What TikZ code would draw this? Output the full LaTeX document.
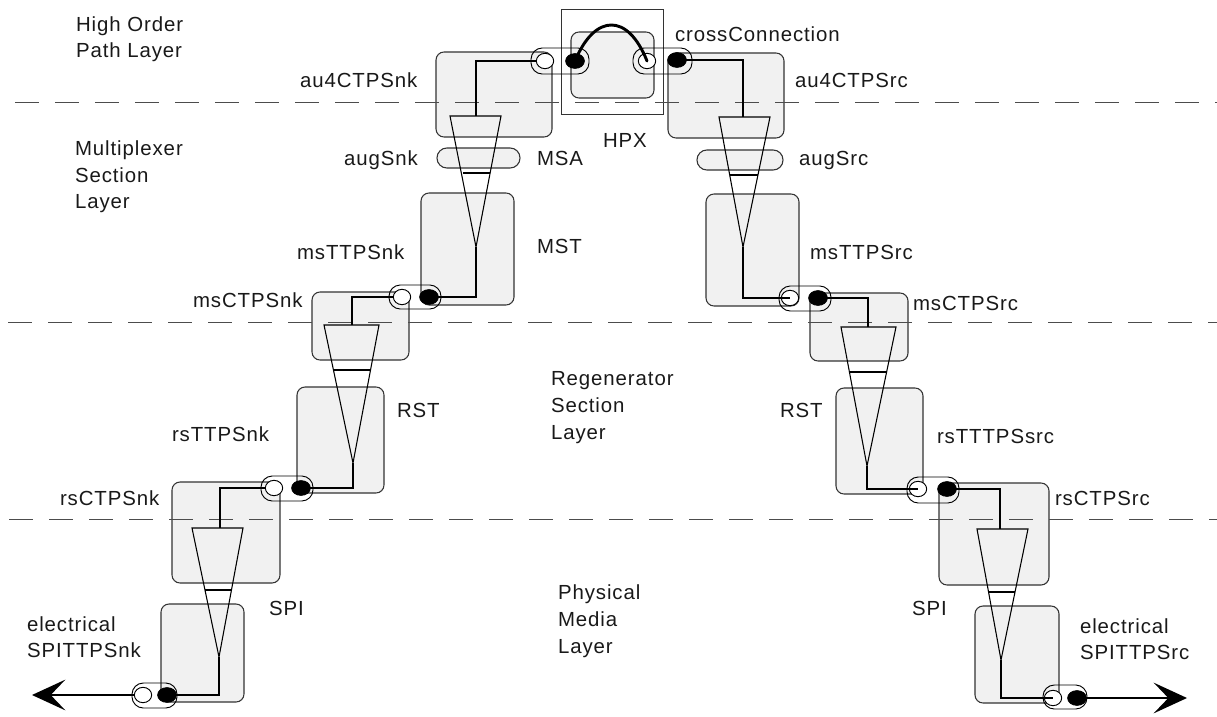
\documentclass[tikz,border=0pt]{standalone}
\usepackage{fontspec}
\setmainfont{Liberation Sans}[LetterSpace=4.5]
\usetikzlibrary{arrows.meta,shapes.geometric}
\definecolor{boxfill}{HTML}{F1F1F1}
\definecolor{edge}{HTML}{333333}
\tikzset{
  boxst/.style={draw=edge,fill=boxfill,line width=0.8pt,rounded corners=6pt,inner sep=0pt,outer sep=0pt},
  pillst/.style={draw=black,line width=0.7pt,rounded corners=8.5pt,inner sep=0pt,outer sep=0pt},
  augst/.style={draw=edge,fill=boxfill,line width=0.8pt,rounded corners=7.4pt,inner sep=0pt,outer sep=0pt},
  hpxst/.style={draw=edge,line width=0.7pt,inner sep=0pt,outer sep=0pt},
  openpt/.style={ellipse,draw=black,fill=white,line width=0.7pt,minimum width=13pt,minimum height=11.5pt,inner sep=0pt,outer sep=0pt},
  fullpt/.style={ellipse,draw=black,fill=black,line width=0.7pt,minimum width=14pt,minimum height=11pt,inner sep=0pt,outer sep=0pt},
  wire/.style={draw=black,line width=1.7pt,line join=miter},
  crosswire/.style={draw=black,line width=2.2pt,line cap=round},
  thin tri/.style={draw=black,line width=0.8pt,line join=miter},
  bar/.style={draw=black,line width=1.5pt},
  barthin/.style={draw=black,line width=0.8pt},
  layerline/.style={draw=black!70,line width=0.7pt,dash pattern=on 18pt off 12pt},
  lab/.style={anchor=base west,inner sep=0pt,outer sep=0pt,font=\fontsize{15.3pt}{17pt}\selectfont,text=black!90},
  bigarrow/.style={line width=1.7pt,-{Stealth[length=25pt,width=23pt,inset=11pt]}}
}
% \bx{style}{name}{x1}{y1}{x2}{y2}
\newcommand{\bx}[6]{%
  \pgfmathsetmacro{\mycx}{(#3+#5)/2}\pgfmathsetmacro{\mycy}{(#4+#6)/2}%
  \pgfmathsetmacro{\myw}{(#5-#3)*0.75}\pgfmathsetmacro{\myh}{(#6-#4)*0.75}%
  \node[#1,minimum width=\myw pt,minimum height=\myh pt] (#2) at (\mycx,\mycy) {};}
\begin{document}
\begin{tikzpicture}[x=0.75pt,y=-0.75pt]
\useasboundingbox (0,0) rectangle (1217,717);
% boxes left
\bx{boxst}{auSnk}{436}{52}{552}{137}
\bx{augst}{augSnkB}{437}{148}{520}{168}
\bx{boxst}{mstL}{421}{193}{514}{305}
\bx{boxst}{msSnk}{312}{292}{409}{360}
\bx{boxst}{rstL}{297}{387}{384}{493}
\bx{boxst}{rsSnk}{172}{482}{280}{583}
\bx{boxst}{spiL}{161}{604}{244}{702}
% boxes right
\bx{boxst}{auSrc}{668}{53}{784}{138}
\bx{augst}{augSrcB}{697}{150}{783}{170}
\bx{boxst}{mstR}{706}{194}{799}{306}
\bx{boxst}{msSrc}{810}{293}{908}{361}
\bx{boxst}{rstR}{836}{388}{923}{494}
\bx{boxst}{rsSrc}{939}{483}{1049}{585}
\bx{boxst}{spiR}{975}{606}{1059}{703}
% HPX
\bx{hpxst}{hpxOuter}{561}{9}{663}{114}
\bx{boxst}{hpxInner}{571}{32}{654}{98}
% layer lines
\coordinate (d1a) at (15,102); \coordinate (d1b) at (1217,102);
\coordinate (d2a) at (8,322); \coordinate (d2b) at (1217,322);
\coordinate (d3a) at (9,519); \coordinate (d3b) at (1217,519);
\draw[layerline] (d1a) -- (d1b);
\draw[layerline] (d2a) -- (d2b);
\draw[layerline] (d3a) -- (d3b);
% triangles left
\coordinate (t1l) at (450,116); \coordinate (t1r) at (501,116); \coordinate (t1a) at (476,247); \coordinate (t1t) at (476,116);
\coordinate (t2l) at (324,325); \coordinate (t2r) at (379,325); \coordinate (t2a) at (353,463); \coordinate (t2t) at (352,325);
\coordinate (t3l) at (192,528); \coordinate (t3r) at (243,528); \coordinate (t3a) at (219,657); \coordinate (t3t) at (220,528);
\draw[thin tri] (t1l) -- (t1r) -- (t1a) -- cycle;
\draw[thin tri] (t2l) -- (t2r) -- (t2a) -- cycle;
\draw[thin tri] (t3l) -- (t3r) -- (t3a) -- cycle;
\coordinate (b1a) at (463,173); \coordinate (b1b) at (490,173);
\coordinate (b2a) at (333,370); \coordinate (b2b) at (371,370);
\coordinate (b3a) at (205,590); \coordinate (b3b) at (231,590);
\draw[bar] (b1a) -- (b1b);
\draw[bar] (b2a) -- (b2b);
\draw[bar] (b3a) -- (b3b);
% triangles right
\coordinate (u1l) at (719,117); \coordinate (u1r) at (770,117); \coordinate (u1a) at (743,247); \coordinate (u1t) at (743,117);
\coordinate (u2l) at (841,327); \coordinate (u2r) at (896,327); \coordinate (u2a) at (867,466); \coordinate (u2t) at (868,327);
\coordinate (u3l) at (977,529); \coordinate (u3r) at (1028,529); \coordinate (u3a) at (1001,660); \coordinate (u3t) at (1000,529);
\draw[thin tri] (u1l) -- (u1r) -- (u1a) -- cycle;
\draw[thin tri] (u2l) -- (u2r) -- (u2a) -- cycle;
\draw[thin tri] (u3l) -- (u3r) -- (u3a) -- cycle;
\coordinate (c1a) at (730,175); \coordinate (c1b) at (758,175);
\coordinate (c2a) at (849,372); \coordinate (c2b) at (887,372);
\coordinate (c3a) at (989,592); \coordinate (c3b) at (1015,592);
\draw[bar] (c1a) -- (c1b);
\draw[barthin] (c2a) -- (c2b);
\draw[bar] (c3a) -- (c3b);
% pills
\bx{pillst}{p1}{531}{48}{589}{74}
\bx{pillst}{p2}{633}{48}{692}{74}
\bx{pillst}{p3}{389}{285}{441}{309}
\bx{pillst}{p4}{779}{286}{831}{311}
\bx{pillst}{p5}{261}{476}{313}{501}
\bx{pillst}{p6}{907}{477}{959}{503}
\bx{pillst}{p7}{132}{683}{177}{708}
\bx{pillst}{p8}{1043}{685}{1087}{709}
% terminals and wires
\node[fullpt] (f1) at (575,61) {};
\node[fullpt] (f2) at (677,60) {};
\node[fullpt] (f3) at (429,297) {};
\node[fullpt] (f4) at (818,298) {};
\node[fullpt] (f5) at (301,488) {};
\node[fullpt] (f6) at (947,489) {};
\node[fullpt] (f7) at (167,695) {};
\node[fullpt] (f8) at (1077,698) {};
\coordinate (o1p) at (545,61);
\coordinate (o3p) at (402,297);
\coordinate (o5p) at (274,488);
\coordinate (o7p) at (143,695);
\draw[wire] (o1p) -| (t1t);
\draw[wire] (t1a) |- (f3.center);
\draw[wire] (o3p) -| (t2t);
\draw[wire] (t2a) |- (f5.center);
\draw[wire] (o5p) -| (t3t);
\draw[wire] (t3a) |- (f7.center);
\node[openpt] (o1) at (o1p) {};
\node[openpt] (o3) at (o3p) {};
\node[openpt] (o5) at (o5p) {};
\node[openpt] (o7) at (o7p) {};
\node[openpt] (o2) at (647,61) {};
\node[openpt] (o4) at (790,298) {};
\node[openpt] (o6) at (918,489) {};
\node[openpt] (o8) at (1053,698) {};
\draw[wire] (f2.center) -| (u1t);
\draw[wire] (u1a) |- (o4.center);
\draw[wire] (f4.center) -| (u2t);
\draw[wire] (u2a) |- (o6.center);
\draw[wire] (f6.center) -| (u3t);
\draw[wire] (u3a) |- (o8.center);
\draw[crosswire] (f1.center) .. controls (595,13) and (628,13) .. (o2.center);
% output arrows
\coordinate (tipL) at (32,695);
\coordinate (tipR) at (1187,698);
\draw[bigarrow] (o7.west) -- (tipL);
\draw[bigarrow] (f8.center) -- (tipR);
% labels
\node[lab] (l1) at (76,31.5) {High Order};
\node[lab] (l2) at (76,58) {Path Layer};
\node[lab] (l3) at (300,88) {au4CTPSnk};
\node[lab] (l4) at (75,155) {Multiplexer};
\node[lab] (l5) at (75,182) {Section};
\node[lab] (l6) at (75,208) {Layer};
\node[lab] (l7) at (344,165) {augSnk};
\node[lab] (l8) at (537,165) {MSA};
\node[lab] (l9) at (603,147) {HPX};
\node[lab] (l10) at (675,42) {crossConnection};
\node[lab] (l11) at (795,88) {au4CTPSrc};
\node[lab] (l12) at (799,165) {augSrc};
\node[lab] (l13) at (537,253) {MST};
\node[lab] (l14) at (297,259) {msTTPSnk};
\node[lab] (l15) at (810,259) {msTTPSrc};
\node[lab] (l16) at (193,307) {msCTPSnk};
\node[lab] (l17) at (913,310) {msCTPSrc};
\node[lab] (l18) at (551,385) {Regenerator};
\node[lab] (l19) at (551,412) {Section};
\node[lab] (l20) at (551,439) {Layer};
\node[lab] (l21) at (397,417) {RST};
\node[lab] (l22) at (780,417) {RST};
\node[lab] (l23) at (172,441) {rsTTPSnk};
\node[lab] (l24) at (937,443) {rsTTTPSsrc};
\node[lab] (l25) at (60,505) {rsCTPSnk};
\node[lab] (l26) at (1055,505) {rsCTPSrc};
\node[lab] (l27) at (269,615) {SPI};
\node[lab] (l28) at (912,615) {SPI};
\node[lab] (l29) at (558,599) {Physical};
\node[lab] (l30) at (558,626) {Media};
\node[lab] (l31) at (558,653) {Layer};
\node[lab] (l32) at (27,631) {electrical};
\node[lab] (l33) at (27,657) {SPITTPSnk};
\node[lab] (l34) at (1080,633) {electrical};
\node[lab] (l35) at (1080,659) {SPITTPSrc};
\end{tikzpicture}
\end{document}
